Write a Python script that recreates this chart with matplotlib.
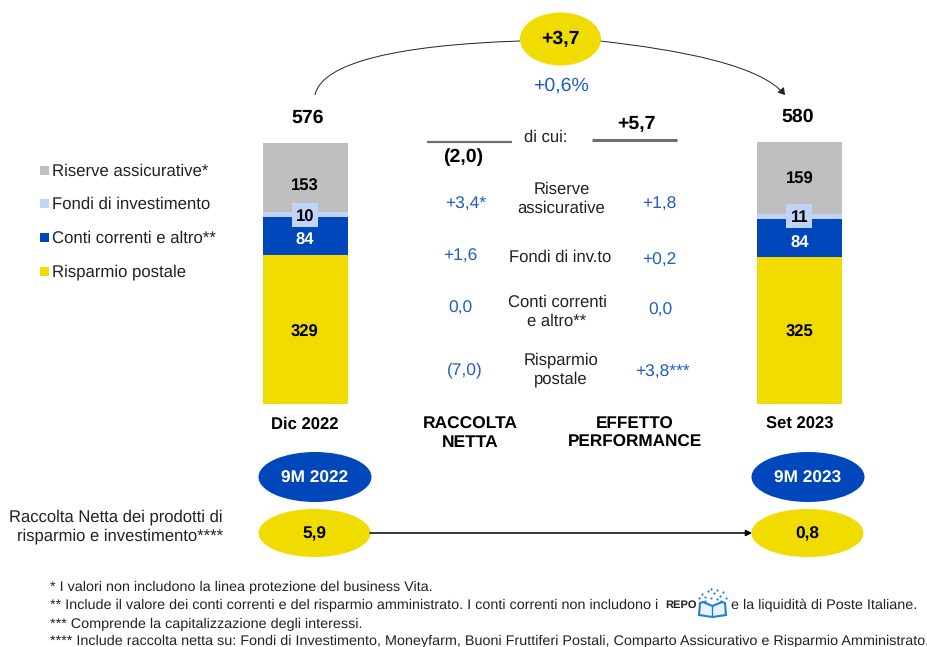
import matplotlib.pyplot as plt
from matplotlib.patches import Ellipse, PathPatch, FancyArrowPatch, Rectangle, Polygon
from matplotlib.path import Path

plt.rcParams['font.family'] = ['Liberation Sans', 'DejaVu Sans']
plt.rcParams['text.hinting'] = 'none'

# stock values, bottom to top
labels = ['Risparmio postale', 'Conti correnti e altro**', 'Fondi di investimento', 'Riserve assicurative*']
dic_2022 = [329, 84, 10, 153]
set_2023 = [325, 84, 11, 159]
totals = ['576', '580']
periods = ['Dic 2022', 'Set 2023']

middle_labels = ['Riserve\nassicurative', 'Fondi di inv.to', 'Conti correnti\ne altro**', 'Risparmio\npostale']
raccolta = ['+3,4*', '+1,6', '0,0', '(7,0)']
performance = ['+1,8', '+0,2', '0,0', '+3,8***']

notes = ['* I valori non includono la linea protezione del business Vita.',
         '** Include il valore dei conti correnti e del risparmio amministrato. I conti correnti non includono i',
         '*** Comprende la capitalizzazione degli interessi.',
         '**** Include raccolta netta su: Fondi di Investimento, Moneyfarm, Buoni Fruttiferi Postali, Comparto Assicurativo e Risparmio Amministrato.']

yellow = '#F0DC00'
blue = '#0047BB'
light = '#BFD4F7'
grey = '#BFBFBF'
text_blue = '#1F5CC4'
dark = '#222222'
colors = [yellow, blue, light, grey]

fig = plt.figure(figsize=(9.28, 6.47), dpi=100)

# background axes in pixels, used for all annotations
ax = fig.add_axes([0, 0, 1, 1])
ax.set_xlim(0, 928)
ax.set_ylim(647, 0)
ax.axis('off')

# bars axes: baseline at y=403.5, about 0.45 px per unit
bar_ax = fig.add_axes([0, (647 - 403.5) / 647, 1, 271 / 647])
bar_ax.set_xlim(0, 928)
bar_ax.set_ylim(0, 600)
bar_ax.axis('off')
bar_ax.patch.set_alpha(0)

# the labels in the original do not sit on the segment centres
label_y = [[330, 238, 215, 184], [330, 241, 216, 177]]
for x, vals, ys in zip([305.5, 800], [dic_2022, set_2023], label_y):
    bottom = 0
    for i in range(4):
        bar_ax.bar(x, vals[i], 85, bottom=bottom, color=colors[i], linewidth=0)
        if i == 2:
            bar_ax.add_patch(Rectangle((x - 13.5, ys[i] - 12), 26, 23.5, transform=ax.transData,
                                       facecolor=light, linewidth=0, zorder=3))
        bar_ax.text(x - 0.5, ys[i] + 2, str(vals[i]), ha='center', va='center', fontsize=12, fontweight='bold',
                    color='white' if i == 1 else 'black', transform=ax.transData, zorder=4)
        bottom += vals[i]

ax.text(308, 118, totals[0], ha='center', va='center', fontsize=14, fontweight='bold')
ax.text(798, 116.5, totals[1], ha='center', va='center', fontsize=14, fontweight='bold')
ax.text(305, 424, periods[0], ha='center', va='center', fontsize=12, fontweight='bold')
ax.text(800, 424, periods[1], ha='center', va='center', fontsize=12, fontweight='bold')

# legend
for y, i in zip([170, 203, 237, 271], [3, 2, 1, 0]):
    ax.add_patch(Rectangle((40, y - 4.5), 9, 9, color=colors[i], linewidth=0))
    ax.text(52, y + 1, labels[i], ha='left', va='center', fontsize=12.1, color=dark)

# top bubble and arcs
ax.add_patch(Ellipse((560.5, 39), 81, 53, color=yellow, linewidth=0, zorder=3))
ax.text(560.5, 39.5, '+3,7', ha='center', va='center', fontsize=14, fontweight='bold', zorder=4)
ax.text(560.5, 86, '+0,6%', ha='center', va='center', fontsize=14, color=text_blue)
left_arc = Path([(315, 95), (322, 62), (400, 45), (520, 41)], [Path.MOVETO, Path.CURVE4, Path.CURVE4, Path.CURVE4])
ax.add_patch(PathPatch(left_arc, facecolor='none', edgecolor=dark, linewidth=0.7))
right_arc = Path([(600, 41), (680, 50), (760, 65), (785, 95)], [Path.MOVETO, Path.CURVE4, Path.CURVE4, Path.CURVE4])
ax.add_patch(FancyArrowPatch(path=right_arc, arrowstyle='-|>,head_length=4,head_width=2.5', color=dark,
                             linewidth=0.7, shrinkA=0, shrinkB=0))

# di cui section
ax.plot([427, 512], [142, 142], color='#6E6E6E', linewidth=1.6, solid_capstyle='butt')
ax.plot([592, 677], [139.5, 139.5], color='#6E6E6E', linewidth=2.2, solid_capstyle='butt')
ax.text(546, 137, 'di cui:', ha='center', va='center', fontsize=12, color=dark)
ax.text(636, 124, '+5,7', ha='center', va='center', fontsize=14, fontweight='bold')
ax.text(463, 157, '(2,0)', ha='center', va='center', fontsize=14, fontweight='bold')

for x, y, lab in zip([561.5, 560, 557, 561], [199, 257, 312, 370], middle_labels):
    ax.text(x, y, lab, ha='center', va='center', fontsize=12, color=dark, linespacing=1.25)
for x, y, a in zip([466, 460, 460, 465], [204, 256, 308, 370], raccolta):
    ax.text(x, y, a, ha='center', va='center', fontsize=12.5, color=text_blue)
for x, y, b in zip([659, 659, 660, 662], [204, 260, 310, 372], performance):
    ax.text(x, y, b, ha='center', va='center', fontsize=12.5, color=text_blue)

ax.text(470, 433.5, 'RACCOLTA\nNETTA', ha='center', va='center', fontsize=12.5, fontweight='bold', linespacing=1.2)
ax.text(635, 433.5, 'EFFETTO\nPERFORMANCE', ha='center', va='center', fontsize=12.3, fontweight='bold', linespacing=1.2)

# bottom bubbles
for x, p, v in zip([315, 808], ['9M 2022', '9M 2023'], ['5,9', '0,8']):
    ax.add_patch(Ellipse((x, 477), 113, 50, color=blue, linewidth=0))
    ax.text(x, 478, p, ha='center', va='center', fontsize=12.4, fontweight='bold', color='white')
    ax.add_patch(Ellipse((x - 0.5, 533), 112, 48, color=yellow, linewidth=0, zorder=3))
    ax.text(x - 1, 534, v, ha='center', va='center', fontsize=12.4, fontweight='bold', zorder=4)
ax.annotate('', xy=(752, 533), xytext=(370, 533),
            arrowprops=dict(arrowstyle='-|>,head_length=0.35,head_width=0.18', color='black', linewidth=1.1,
                            shrinkA=0, shrinkB=0))
ax.text(223, 527, 'Raccolta Netta dei prodotti di\nrisparmio e investimento****', ha='right', va='center',
        fontsize=12, color=dark, linespacing=1.25)

# footnotes
for y, t in zip([587, 605, 624, 641.5], notes):
    ax.text(50, y, t, ha='left', va='center', fontsize=10.36, color=dark)
ax.text(665, 605, 'REPO', ha='left', va='center', fontsize=8, fontweight='bold', color=dark)
ax.text(731, 605, 'e la liquidità di Poste Italiane.', ha='left', va='center', fontsize=10.36, color=dark)

# small book icon next to REPO
icon = '#1F7FD6'
ax.add_patch(Polygon([(712.5, 606), (703, 602), (700, 603), (699, 615), (712.5, 617), (726, 615), (725, 603), (722, 602)],
                     closed=True, facecolor='#EAF4FC', edgecolor=icon, linewidth=1.5))
ax.plot([712.5, 712.5], [606, 617], color=icon, linewidth=1.0)
ax.scatter([699, 702, 705, 708, 711, 714, 717, 720, 723, 726, 705, 711, 717, 721],
           [598, 594, 597, 591, 589, 593, 590, 596, 592, 598, 601, 598, 599, 601], s=2.5, color=icon, linewidth=0)

fig.savefig('out.png', dpi=100)
